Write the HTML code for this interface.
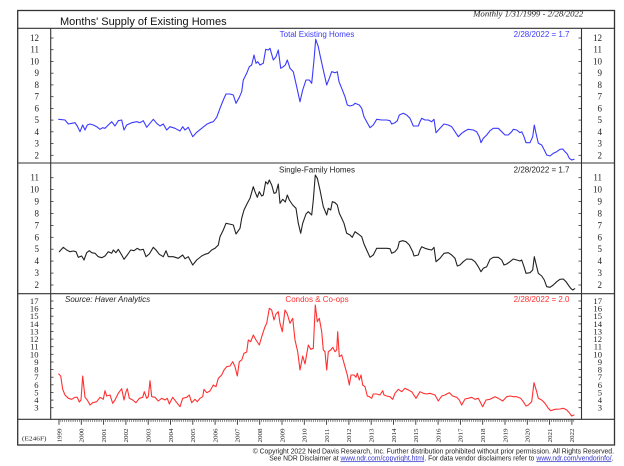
<!DOCTYPE html>
<html><head><meta charset="utf-8"><style>
html,body{margin:0;padding:0;background:#fff;}
svg{display:block;}
</style></head><body>
<svg width="624" height="466" viewBox="0 0 624 466" xmlns="http://www.w3.org/2000/svg">
<rect x="0" y="0" width="624" height="466" fill="#fff"/>
<!-- frame -->
<g stroke="#333" stroke-width="1.1" fill="none">
<rect x="17.7" y="10.5" width="596.8" height="434.5" stroke-width="1.3"/>
<line x1="17.7" y1="28.3" x2="614.5" y2="28.3"/>
<line x1="17.7" y1="163" x2="614.5" y2="163"/>
<line x1="17.7" y1="293.7" x2="614.5" y2="293.7"/>
<line x1="17.7" y1="419.3" x2="614.5" y2="419.3"/>
<line x1="50.7" y1="28.3" x2="50.7" y2="419.3"/>
<line x1="581.5" y1="28.3" x2="581.5" y2="419.3"/>
</g>
<text x="60" y="25.2" font-family="Liberation Sans, sans-serif" font-size="11" fill="#111">Months' Supply of Existing Homes</text>
<text x="583.3" y="16.6" text-anchor="end" font-family="Liberation Serif, serif" font-style="italic" font-size="8.8" fill="#222">Monthly 1/31/1999 - 2/28/2022</text>

<!-- y ticks panel1 -->
<g stroke="#333" stroke-width="0.8">
<line x1="50.7" y1="38" x2="53.5" y2="38"/><line x1="578.5" y1="38" x2="581.5" y2="38"/>
<line x1="50.7" y1="49.7" x2="53.5" y2="49.7"/><line x1="578.5" y1="49.7" x2="581.5" y2="49.7"/>
<line x1="50.7" y1="61.5" x2="53.5" y2="61.5"/><line x1="578.5" y1="61.5" x2="581.5" y2="61.5"/>
<line x1="50.7" y1="73.2" x2="53.5" y2="73.2"/><line x1="578.5" y1="73.2" x2="581.5" y2="73.2"/>
<line x1="50.7" y1="84.9" x2="53.5" y2="84.9"/><line x1="578.5" y1="84.9" x2="581.5" y2="84.9"/>
<line x1="50.7" y1="96.7" x2="53.5" y2="96.7"/><line x1="578.5" y1="96.7" x2="581.5" y2="96.7"/>
<line x1="50.7" y1="108.4" x2="53.5" y2="108.4"/><line x1="578.5" y1="108.4" x2="581.5" y2="108.4"/>
<line x1="50.7" y1="120.1" x2="53.5" y2="120.1"/><line x1="578.5" y1="120.1" x2="581.5" y2="120.1"/>
<line x1="50.7" y1="131.8" x2="53.5" y2="131.8"/><line x1="578.5" y1="131.8" x2="581.5" y2="131.8"/>
<line x1="50.7" y1="143.6" x2="53.5" y2="143.6"/><line x1="578.5" y1="143.6" x2="581.5" y2="143.6"/>
<line x1="50.7" y1="155.3" x2="53.5" y2="155.3"/><line x1="578.5" y1="155.3" x2="581.5" y2="155.3"/>
</g>
<g font-family="Liberation Serif, serif" font-size="9" fill="#222">
<g text-anchor="end">
<text x="39" y="41">12</text><text x="39" y="52.7">11</text><text x="39" y="64.5">10</text><text x="39" y="76.2">9</text><text x="39" y="87.9">8</text><text x="39" y="99.7">7</text><text x="39" y="111.4">6</text><text x="39" y="123.1">5</text><text x="39" y="134.8">4</text><text x="39" y="146.6">3</text><text x="39" y="158.3">2</text>
<text x="602" y="41">12</text><text x="602" y="52.7">11</text><text x="602" y="64.5">10</text><text x="602" y="76.2">9</text><text x="602" y="87.9">8</text><text x="602" y="99.7">7</text><text x="602" y="111.4">6</text><text x="602" y="123.1">5</text><text x="602" y="134.8">4</text><text x="602" y="146.6">3</text><text x="602" y="158.3">2</text>
</g>
</g>

<!-- y ticks panel2 -->
<g stroke="#333" stroke-width="0.8">
<line x1="50.7" y1="177.7" x2="53.5" y2="177.7"/><line x1="578.5" y1="177.7" x2="581.5" y2="177.7"/>
<line x1="50.7" y1="189.6" x2="53.5" y2="189.6"/><line x1="578.5" y1="189.6" x2="581.5" y2="189.6"/>
<line x1="50.7" y1="201.5" x2="53.5" y2="201.5"/><line x1="578.5" y1="201.5" x2="581.5" y2="201.5"/>
<line x1="50.7" y1="213.5" x2="53.5" y2="213.5"/><line x1="578.5" y1="213.5" x2="581.5" y2="213.5"/>
<line x1="50.7" y1="225.4" x2="53.5" y2="225.4"/><line x1="578.5" y1="225.4" x2="581.5" y2="225.4"/>
<line x1="50.7" y1="237.3" x2="53.5" y2="237.3"/><line x1="578.5" y1="237.3" x2="581.5" y2="237.3"/>
<line x1="50.7" y1="249.2" x2="53.5" y2="249.2"/><line x1="578.5" y1="249.2" x2="581.5" y2="249.2"/>
<line x1="50.7" y1="261.1" x2="53.5" y2="261.1"/><line x1="578.5" y1="261.1" x2="581.5" y2="261.1"/>
<line x1="50.7" y1="273.1" x2="53.5" y2="273.1"/><line x1="578.5" y1="273.1" x2="581.5" y2="273.1"/>
<line x1="50.7" y1="285" x2="53.5" y2="285"/><line x1="578.5" y1="285" x2="581.5" y2="285"/>
</g>
<g font-family="Liberation Serif, serif" font-size="9" fill="#222" text-anchor="end">
<text x="39" y="180.7">11</text><text x="39" y="192.6">10</text><text x="39" y="204.5">9</text><text x="39" y="216.5">8</text><text x="39" y="228.4">7</text><text x="39" y="240.3">6</text><text x="39" y="252.2">5</text><text x="39" y="264.1">4</text><text x="39" y="276.1">3</text><text x="39" y="288">2</text>
<text x="602" y="180.7">11</text><text x="602" y="192.6">10</text><text x="602" y="204.5">9</text><text x="602" y="216.5">8</text><text x="602" y="228.4">7</text><text x="602" y="240.3">6</text><text x="602" y="252.2">5</text><text x="602" y="264.1">4</text><text x="602" y="276.1">3</text><text x="602" y="288">2</text>
</g>

<!-- y ticks panel3 -->
<g stroke="#333" stroke-width="0.8">
<line x1="50.7" y1="301" x2="53.5" y2="301"/><line x1="578.5" y1="301" x2="581.5" y2="301"/>
<line x1="50.7" y1="308.6" x2="53.5" y2="308.6"/><line x1="578.5" y1="308.6" x2="581.5" y2="308.6"/>
<line x1="50.7" y1="316.2" x2="53.5" y2="316.2"/><line x1="578.5" y1="316.2" x2="581.5" y2="316.2"/>
<line x1="50.7" y1="323.9" x2="53.5" y2="323.9"/><line x1="578.5" y1="323.9" x2="581.5" y2="323.9"/>
<line x1="50.7" y1="331.5" x2="53.5" y2="331.5"/><line x1="578.5" y1="331.5" x2="581.5" y2="331.5"/>
<line x1="50.7" y1="339.1" x2="53.5" y2="339.1"/><line x1="578.5" y1="339.1" x2="581.5" y2="339.1"/>
<line x1="50.7" y1="346.7" x2="53.5" y2="346.7"/><line x1="578.5" y1="346.7" x2="581.5" y2="346.7"/>
<line x1="50.7" y1="354.3" x2="53.5" y2="354.3"/><line x1="578.5" y1="354.3" x2="581.5" y2="354.3"/>
<line x1="50.7" y1="362" x2="53.5" y2="362"/><line x1="578.5" y1="362" x2="581.5" y2="362"/>
<line x1="50.7" y1="369.6" x2="53.5" y2="369.6"/><line x1="578.5" y1="369.6" x2="581.5" y2="369.6"/>
<line x1="50.7" y1="377.2" x2="53.5" y2="377.2"/><line x1="578.5" y1="377.2" x2="581.5" y2="377.2"/>
<line x1="50.7" y1="384.8" x2="53.5" y2="384.8"/><line x1="578.5" y1="384.8" x2="581.5" y2="384.8"/>
<line x1="50.7" y1="392.4" x2="53.5" y2="392.4"/><line x1="578.5" y1="392.4" x2="581.5" y2="392.4"/>
<line x1="50.7" y1="400.1" x2="53.5" y2="400.1"/><line x1="578.5" y1="400.1" x2="581.5" y2="400.1"/>
<line x1="50.7" y1="407.7" x2="53.5" y2="407.7"/><line x1="578.5" y1="407.7" x2="581.5" y2="407.7"/>
</g>
<g font-family="Liberation Serif, serif" font-size="8.6" fill="#222" text-anchor="end">
<text x="38.5" y="304">17</text><text x="38.5" y="311.6">16</text><text x="38.5" y="319.2">15</text><text x="38.5" y="326.9">14</text><text x="38.5" y="334.5">13</text><text x="38.5" y="342.1">12</text><text x="38.5" y="349.7">11</text><text x="38.5" y="357.3">10</text><text x="38.5" y="365">9</text><text x="38.5" y="372.6">8</text><text x="38.5" y="380.2">7</text><text x="38.5" y="387.8">6</text><text x="38.5" y="395.4">5</text><text x="38.5" y="403.1">4</text><text x="38.5" y="410.7">3</text>
<text x="602" y="304">17</text><text x="602" y="311.6">16</text><text x="602" y="319.2">15</text><text x="602" y="326.9">14</text><text x="602" y="334.5">13</text><text x="602" y="342.1">12</text><text x="602" y="349.7">11</text><text x="602" y="357.3">10</text><text x="602" y="365">9</text><text x="602" y="372.6">8</text><text x="602" y="380.2">7</text><text x="602" y="387.8">6</text><text x="602" y="395.4">5</text><text x="602" y="403.1">4</text><text x="602" y="410.7">3</text>
</g>

<!-- panel labels -->
<g font-family="Liberation Sans, sans-serif" font-size="8">
<text x="317" y="37" text-anchor="middle" fill="#3a3aff">Total Existing Homes</text>
<text x="569.5" y="37" text-anchor="end" fill="#3a3aff">2/28/2022 = 1.7</text>
<text x="317" y="172.3" text-anchor="middle" fill="#222">Single-Family Homes</text>
<text x="569.5" y="172.3" text-anchor="end" fill="#222">2/28/2022 = 1.7</text>
<text x="65" y="302" fill="#222" font-style="italic">Source:  Haver Analytics</text>
<text x="317" y="302" text-anchor="middle" fill="#ff3030">Condos &amp; Co-ops</text>
<text x="569.5" y="302" text-anchor="end" fill="#ff3030">2/28/2022 = 2.0</text>
</g>

<!-- series -->
<g fill="none" stroke-width="1.1" stroke-linejoin="round" stroke-linecap="round">
<polyline stroke="#3a3aff" points="58.7,119.3 65,120 68.3,124 71.7,123.3 75,122.7 77.3,126 80,131.7 82.7,125 85,130 87.3,125 90,124 93.3,125 96.7,126.7 100,129.3 102.7,127.7 105,128.3 108.3,125 111.7,121.7 115,126 118.3,120.7 121.7,120 124,130 126.7,125 131.7,122.7 136.7,121.7 140,122.7 143.3,120.7 146.7,127.3 150,123.3 153.3,119.3 156.7,123.3 160,126 163.3,124 166.7,130 170,126.7 175,128.3 180,131 182.7,126.7 185,130 188.3,127.3 192.7,136.7 196.7,132.3 201.7,128.3 206.7,124.3 210,122.7 213.3,121.7 216.7,117.3 220,108.3 223.3,100 226,94 230,94 233.3,95 236,103.3 239.3,97.3 241.7,91.7 243.3,80 246.7,73.3 249.3,66.7 251.7,65 254,55 256,63.3 257.7,61.7 260,65 263.3,63.3 265.7,49.3 268.3,50 270,48.3 273.3,60 276,56.7 278.3,50 280.7,68.3 283.3,66.7 285.3,65 287.3,60 290,68.3 293.3,71.7 296.7,86.7 300,101.7 302.7,90 306,80 309.3,80 311.7,83.3 314,60 315.7,39.3 318.3,46.7 320,55 323.3,70 326.7,85 329.3,78.3 331.7,71.7 335,72.7 337.3,71.7 339,81.7 341.7,88.3 345,96.7 347.3,105 350,106 353.3,105 355,103.3 359.3,105 361.7,108.3 364,116.7 366.7,121.7 370,127.7 373.3,125 376.7,119.3 381.7,120 386.7,120 390,120.7 391.7,124 395,122.7 397.3,120.7 399.3,115 403.3,113.3 406.7,115 410,118.3 413.3,126 418.3,126 420,121.7 421.7,118.3 425,120 428.3,120 431.7,121.7 434,119.3 436,132.7 440,128.3 444,124 448.3,125 451.7,126.7 455,131.7 458.3,136.7 461.7,133.3 465,131 468.3,129.3 473.3,130 476.7,131.7 479.3,136.7 481,142.7 483.3,138.3 486.7,135 490,130.7 493.3,128.3 498.3,128.3 501.7,131.7 505,135 508.3,135 511.7,131.7 513.3,129.3 516.7,130 520,132.7 521.7,131.7 524,136.7 526,142.7 530,142.7 532.7,136.7 534.3,125 536,133.3 538.3,143.3 541.7,145 544.3,150 546.7,155 550,156 553.3,153.3 556.7,151.7 560,149.3 562.7,149 565,151.7 567.3,154 569.3,158.3 571.7,160 574,159.3"/>
<polyline stroke="#222" points="59.3,251.7 63.3,247.3 66.7,250 70,251.7 73.3,251 76,251.7 78.3,257.3 81.7,256 84,260 86.7,252.7 89.3,250.7 91.7,252.7 95,253.3 98.3,256.7 101.7,257.7 105,256 108.3,251.7 111.7,253.3 113.3,250 116,252.7 118.3,249.3 121.7,255 124,259.3 127.3,255 130.7,250 134,250.7 137.3,248.3 140,250 143.3,249.3 146,256.7 149.3,254 153.3,247.3 156,250 159.3,254.3 163.3,256.7 166,250.7 168.3,256.7 173.3,256.7 178.3,258.3 182.7,255 185,258.7 188.3,256.7 192.7,265 196.7,260 201.7,256 205,254.3 208.3,253.3 211.7,250 215,248.3 218.3,245 220,236.7 223.3,230 226,223.3 229.3,224 233.3,225 236,234 240,228.3 241.7,218.3 244,210 247.3,203.3 250,198.3 253.3,186.7 255,191.7 257.3,197.3 259.3,191.7 261.7,196 263.3,195 265.7,181.7 267.7,184 269.3,180 271.7,185 274,193.3 276,192.7 278.3,184 280,203.3 282.7,199.3 285.3,202 287.3,195 289.3,200 292.7,205 296,208.3 298.3,223.3 300.7,233.3 302.7,223.3 306,214 308.3,211.7 310,213.3 311.7,215 313.3,200 315.3,175 317.3,178.3 320,190 323.3,206.7 326.7,215 328.3,208.3 330.7,210 332.3,201.7 335,202.7 337.3,205 339.3,213.3 341.7,218.3 344,223.3 346.7,233.3 350,235 352.3,237.3 355,231.7 358.3,234 361.7,236.7 364,244 366.7,250 370,257.3 373.3,255 376.7,248.3 381.7,248.3 386.7,248.3 390,248.7 391.7,253.3 395,251.7 397.7,248.3 399.3,241.7 402.7,240.7 406,241.7 409.3,245 412.7,251.7 414,256 418.3,255 420,250 421.7,246.7 425,248.3 428.3,249.3 431.7,250 434,247.3 436,261.7 440,258.3 444,253.3 448.3,252.7 451.7,255 455,258.3 457.3,266 460,265 463.3,261.7 466.7,259 471.7,259.3 475,261.7 478.3,266.7 481,271.7 483.3,268.3 486.7,266.7 490,259.3 493.3,257.3 498.3,257.3 501.7,260 504,265 506.7,264 510,261.7 513.3,259 516.7,260 520,261 521.7,260 524,266.7 526,273.3 530,272.7 532.7,270 534.3,256.7 536.7,266.7 538.3,273.3 541.7,276 544.3,280 546.7,286.7 550,287.3 553.3,285 556.7,281.7 560,279.3 563.3,279 566,281.7 568.3,285 570.7,288.3 572.7,290 574.7,288.7"/>
<polyline stroke="#ff3030" points="58.7,374 60.7,376 62.7,389.3 65,395 68.3,398.3 71.7,399.3 75,397.3 77.3,397.3 79.3,402 81,400 82.7,376 85,397.3 87.3,400 90,405 92.7,402.7 96.7,401.7 100,397.3 103.3,399.3 105,390.7 106.7,396 110,395 112.7,403.3 115,400 118.3,393.3 121.7,388.7 124,400 126,391.7 127.3,388.7 129.3,398.3 132.7,400 136,402.7 139.3,398.3 142.7,397.3 144.3,391.7 146.7,398.3 148.3,396.7 150,380.7 151.7,396.7 155,397.3 158.3,401 161.7,398.3 165,400 167.3,398.3 169.3,404 172.7,397.3 176,401.7 180,406.7 182.7,398.3 186.7,397.3 189.3,395 191.7,402.7 195,399.3 197.3,401.7 200,398.3 202.7,396.7 204,389.3 206.7,392.7 210,391 213.3,385 216,386.7 218.3,378.3 221.7,375 224,370 226.7,366.7 230,366 232.7,361.7 235,366.7 237.3,376 239.3,361.7 241.7,360 244,353.3 246.7,352 248.3,340 250.7,341.7 253.3,335 256,340 259.3,345 261.7,336.7 265,326.7 266.7,323.3 269.3,308.3 271.7,310 274,320 276,314 278.3,311.7 280,323.3 282.3,331.7 285,310 287.3,314 290,323.3 292.7,318.3 295,340 297.7,351.7 300,370 302.7,356 305,364 308.3,345 310.7,349.3 313.3,348.3 315.3,305 317.3,321.7 319.3,318.3 321.7,331.7 323.3,350 325,351.7 326.7,370 328.3,351.7 330.7,350 332.7,347.3 335,351.7 336.7,350 337.7,331.7 339.3,356.7 341.7,355 345,366.7 347.3,375 349.3,385 351,375 354,375 356,377.3 357.3,373.3 359.3,380 361,375 362.7,385 365,386.7 367.3,396 369.3,396.7 371.7,398.3 373.3,394 376.7,394 380,395 382.7,390.7 384,395 386.7,396 390,396.7 392.7,399.3 395,393.3 398.3,389.3 401.7,391.7 405,388.3 408.3,390 411.7,391.7 416,398.3 420,391.7 423.3,393.3 426.7,394 430,393.3 435,395 438.3,401 441.7,396 445,395 446.7,394 449.3,392.7 452.7,396 456.7,397.3 459.3,400 461.7,405 465,399 468.3,398.3 471.7,397.3 475,399.3 478.3,398.3 482.7,406.7 486,400 490,399.3 495,396.7 498.3,398.3 502.7,401 506.7,396.7 510,396 513.3,396.7 516.7,396.7 520.7,398.3 523.3,401.7 526,406 528.3,405 531.7,401.7 534,382.7 536.7,391.7 538.3,398.3 541.7,400 545,403.3 548.3,408.3 550.7,410.7 555,409.3 560,409 563.3,408.3 566.7,410 569.3,412.7 571.7,416 574,415"/>
</g>

<!-- x axis ticks -->
<g stroke="#444" stroke-width="0.6">
<path d="M60.86,419.3v2.6M62.72,419.3v2.6M64.58,419.3v2.6M66.43,419.3v2.6M68.29,419.3v2.6M70.15,419.3v2.6M72.01,419.3v2.6M73.87,419.3v2.6M75.73,419.3v2.6M77.58,419.3v2.6M79.44,419.3v2.6
M83.16,419.3v2.6M85.02,419.3v2.6M86.88,419.3v2.6M88.73,419.3v2.6M90.59,419.3v2.6M92.45,419.3v2.6M94.31,419.3v2.6M96.17,419.3v2.6M98.03,419.3v2.6M99.88,419.3v2.6M101.74,419.3v2.6
M105.46,419.3v2.6M107.32,419.3v2.6M109.18,419.3v2.6M111.03,419.3v2.6M112.89,419.3v2.6M114.75,419.3v2.6M116.61,419.3v2.6M118.47,419.3v2.6M120.33,419.3v2.6M122.18,419.3v2.6M124.04,419.3v2.6
M127.76,419.3v2.6M129.62,419.3v2.6M131.48,419.3v2.6M133.33,419.3v2.6M135.19,419.3v2.6M137.05,419.3v2.6M138.91,419.3v2.6M140.77,419.3v2.6M142.63,419.3v2.6M144.48,419.3v2.6M146.34,419.3v2.6
M150.06,419.3v2.6M151.92,419.3v2.6M153.78,419.3v2.6M155.63,419.3v2.6M157.49,419.3v2.6M159.35,419.3v2.6M161.21,419.3v2.6M163.07,419.3v2.6M164.93,419.3v2.6M166.78,419.3v2.6M168.64,419.3v2.6
M172.36,419.3v2.6M174.22,419.3v2.6M176.08,419.3v2.6M177.93,419.3v2.6M179.79,419.3v2.6M181.65,419.3v2.6M183.51,419.3v2.6M185.37,419.3v2.6M187.23,419.3v2.6M189.08,419.3v2.6M190.94,419.3v2.6
M194.66,419.3v2.6M196.52,419.3v2.6M198.38,419.3v2.6M200.23,419.3v2.6M202.09,419.3v2.6M203.95,419.3v2.6M205.81,419.3v2.6M207.67,419.3v2.6M209.53,419.3v2.6M211.38,419.3v2.6M213.24,419.3v2.6
M216.96,419.3v2.6M218.82,419.3v2.6M220.68,419.3v2.6M222.53,419.3v2.6M224.39,419.3v2.6M226.25,419.3v2.6M228.11,419.3v2.6M229.97,419.3v2.6M231.83,419.3v2.6M233.68,419.3v2.6M235.54,419.3v2.6
M239.26,419.3v2.6M241.12,419.3v2.6M242.98,419.3v2.6M244.83,419.3v2.6M246.69,419.3v2.6M248.55,419.3v2.6M250.41,419.3v2.6M252.27,419.3v2.6M254.13,419.3v2.6M255.98,419.3v2.6M257.84,419.3v2.6
M261.56,419.3v2.6M263.42,419.3v2.6M265.28,419.3v2.6M267.13,419.3v2.6M268.99,419.3v2.6M270.85,419.3v2.6M272.71,419.3v2.6M274.57,419.3v2.6M276.43,419.3v2.6M278.28,419.3v2.6M280.14,419.3v2.6
M283.86,419.3v2.6M285.72,419.3v2.6M287.58,419.3v2.6M289.43,419.3v2.6M291.29,419.3v2.6M293.15,419.3v2.6M295.01,419.3v2.6M296.87,419.3v2.6M298.73,419.3v2.6M300.58,419.3v2.6M302.44,419.3v2.6
M306.16,419.3v2.6M308.02,419.3v2.6M309.88,419.3v2.6M311.73,419.3v2.6M313.59,419.3v2.6M315.45,419.3v2.6M317.31,419.3v2.6M319.17,419.3v2.6M321.03,419.3v2.6M322.88,419.3v2.6M324.74,419.3v2.6
M328.46,419.3v2.6M330.32,419.3v2.6M332.18,419.3v2.6M334.03,419.3v2.6M335.89,419.3v2.6M337.75,419.3v2.6M339.61,419.3v2.6M341.47,419.3v2.6M343.33,419.3v2.6M345.18,419.3v2.6M347.04,419.3v2.6
M350.76,419.3v2.6M352.62,419.3v2.6M354.48,419.3v2.6M356.33,419.3v2.6M358.19,419.3v2.6M360.05,419.3v2.6M361.91,419.3v2.6M363.77,419.3v2.6M365.63,419.3v2.6M367.48,419.3v2.6M369.34,419.3v2.6
M373.06,419.3v2.6M374.92,419.3v2.6M376.78,419.3v2.6M378.63,419.3v2.6M380.49,419.3v2.6M382.35,419.3v2.6M384.21,419.3v2.6M386.07,419.3v2.6M387.93,419.3v2.6M389.78,419.3v2.6M391.64,419.3v2.6
M395.36,419.3v2.6M397.22,419.3v2.6M399.08,419.3v2.6M400.93,419.3v2.6M402.79,419.3v2.6M404.65,419.3v2.6M406.51,419.3v2.6M408.37,419.3v2.6M410.23,419.3v2.6M412.08,419.3v2.6M413.94,419.3v2.6
M417.66,419.3v2.6M419.52,419.3v2.6M421.38,419.3v2.6M423.23,419.3v2.6M425.09,419.3v2.6M426.95,419.3v2.6M428.81,419.3v2.6M430.67,419.3v2.6M432.53,419.3v2.6M434.38,419.3v2.6M436.24,419.3v2.6
M439.96,419.3v2.6M441.82,419.3v2.6M443.68,419.3v2.6M445.53,419.3v2.6M447.39,419.3v2.6M449.25,419.3v2.6M451.11,419.3v2.6M452.97,419.3v2.6M454.83,419.3v2.6M456.68,419.3v2.6M458.54,419.3v2.6
M462.26,419.3v2.6M464.12,419.3v2.6M465.98,419.3v2.6M467.83,419.3v2.6M469.69,419.3v2.6M471.55,419.3v2.6M473.41,419.3v2.6M475.27,419.3v2.6M477.13,419.3v2.6M478.98,419.3v2.6M480.84,419.3v2.6
M484.56,419.3v2.6M486.42,419.3v2.6M488.28,419.3v2.6M490.13,419.3v2.6M491.99,419.3v2.6M493.85,419.3v2.6M495.71,419.3v2.6M497.57,419.3v2.6M499.43,419.3v2.6M501.28,419.3v2.6M503.14,419.3v2.6
M506.86,419.3v2.6M508.72,419.3v2.6M510.58,419.3v2.6M512.43,419.3v2.6M514.29,419.3v2.6M516.15,419.3v2.6M518.01,419.3v2.6M519.87,419.3v2.6M521.73,419.3v2.6M523.58,419.3v2.6M525.44,419.3v2.6
M529.16,419.3v2.6M531.02,419.3v2.6M532.88,419.3v2.6M534.73,419.3v2.6M536.59,419.3v2.6M538.45,419.3v2.6M540.31,419.3v2.6M542.17,419.3v2.6M544.03,419.3v2.6M545.88,419.3v2.6M547.74,419.3v2.6
M551.46,419.3v2.6M553.32,419.3v2.6M555.18,419.3v2.6M557.03,419.3v2.6M558.89,419.3v2.6M560.75,419.3v2.6M562.61,419.3v2.6M564.47,419.3v2.6M566.33,419.3v2.6M568.18,419.3v2.6M570.04,419.3v2.6
M573.76,419.3v2.6"/>
</g>
<g stroke="#333" stroke-width="0.9">
<path d="M59,419.3v5.5M81.3,419.3v5.5M103.6,419.3v5.5M125.9,419.3v5.5M148.2,419.3v5.5M170.5,419.3v5.5M192.8,419.3v5.5M215.1,419.3v5.5M237.4,419.3v5.5M259.7,419.3v5.5M282,419.3v5.5M304.3,419.3v5.5M326.6,419.3v5.5M348.9,419.3v5.5M371.2,419.3v5.5M393.5,419.3v5.5M415.8,419.3v5.5M438.1,419.3v5.5M460.4,419.3v5.5M482.7,419.3v5.5M505,419.3v5.5M527.3,419.3v5.5M549.6,419.3v5.5M571.9,419.3v5.5"/>
</g>
<g font-family="Liberation Serif, serif" font-size="6.5" fill="#222">
<text transform="translate(61.3,442.5) rotate(-90)" textLength="14" lengthAdjust="spacingAndGlyphs">1999</text>
<text transform="translate(83.6,442.5) rotate(-90)" textLength="14" lengthAdjust="spacingAndGlyphs">2000</text>
<text transform="translate(105.9,442.5) rotate(-90)" textLength="14" lengthAdjust="spacingAndGlyphs">2001</text>
<text transform="translate(128.2,442.5) rotate(-90)" textLength="14" lengthAdjust="spacingAndGlyphs">2002</text>
<text transform="translate(150.5,442.5) rotate(-90)" textLength="14" lengthAdjust="spacingAndGlyphs">2003</text>
<text transform="translate(172.8,442.5) rotate(-90)" textLength="14" lengthAdjust="spacingAndGlyphs">2004</text>
<text transform="translate(195.1,442.5) rotate(-90)" textLength="14" lengthAdjust="spacingAndGlyphs">2005</text>
<text transform="translate(217.4,442.5) rotate(-90)" textLength="14" lengthAdjust="spacingAndGlyphs">2006</text>
<text transform="translate(239.7,442.5) rotate(-90)" textLength="14" lengthAdjust="spacingAndGlyphs">2007</text>
<text transform="translate(262,442.5) rotate(-90)" textLength="14" lengthAdjust="spacingAndGlyphs">2008</text>
<text transform="translate(284.3,442.5) rotate(-90)" textLength="14" lengthAdjust="spacingAndGlyphs">2009</text>
<text transform="translate(306.6,442.5) rotate(-90)" textLength="14" lengthAdjust="spacingAndGlyphs">2010</text>
<text transform="translate(328.9,442.5) rotate(-90)" textLength="14" lengthAdjust="spacingAndGlyphs">2011</text>
<text transform="translate(351.2,442.5) rotate(-90)" textLength="14" lengthAdjust="spacingAndGlyphs">2012</text>
<text transform="translate(373.5,442.5) rotate(-90)" textLength="14" lengthAdjust="spacingAndGlyphs">2013</text>
<text transform="translate(395.8,442.5) rotate(-90)" textLength="14" lengthAdjust="spacingAndGlyphs">2014</text>
<text transform="translate(418.1,442.5) rotate(-90)" textLength="14" lengthAdjust="spacingAndGlyphs">2015</text>
<text transform="translate(440.4,442.5) rotate(-90)" textLength="14" lengthAdjust="spacingAndGlyphs">2016</text>
<text transform="translate(462.7,442.5) rotate(-90)" textLength="14" lengthAdjust="spacingAndGlyphs">2017</text>
<text transform="translate(485,442.5) rotate(-90)" textLength="14" lengthAdjust="spacingAndGlyphs">2018</text>
<text transform="translate(507.3,442.5) rotate(-90)" textLength="14" lengthAdjust="spacingAndGlyphs">2019</text>
<text transform="translate(529.6,442.5) rotate(-90)" textLength="14" lengthAdjust="spacingAndGlyphs">2020</text>
<text transform="translate(551.9,442.5) rotate(-90)" textLength="14" lengthAdjust="spacingAndGlyphs">2021</text>
<text transform="translate(574.2,442.5) rotate(-90)" textLength="14" lengthAdjust="spacingAndGlyphs">2022</text>
</g>
<text x="22" y="440.5" font-family="Liberation Serif, serif" font-size="6" fill="#222" textLength="24.5" lengthAdjust="spacingAndGlyphs">(E246F)</text>

<!-- footer -->
<g font-family="Liberation Sans, sans-serif" font-size="7.4" fill="#222">
<text x="252.7" y="453.3" textLength="361.3" lengthAdjust="spacingAndGlyphs">© Copyright 2022 Ned Davis Research, Inc.  Further distribution prohibited without prior permission.  All Rights Reserved.</text>
<text x="269.3" y="460.3" textLength="344.2" lengthAdjust="spacingAndGlyphs">See NDR Disclaimer at <tspan fill="#3333cc" text-decoration="underline">www.ndr.com/copyright.html</tspan>. For data vendor disclaimers refer to <tspan fill="#3333cc" text-decoration="underline">www.ndr.com/vendorinfo/</tspan>.</text>
</g>
</svg>
</body></html>
